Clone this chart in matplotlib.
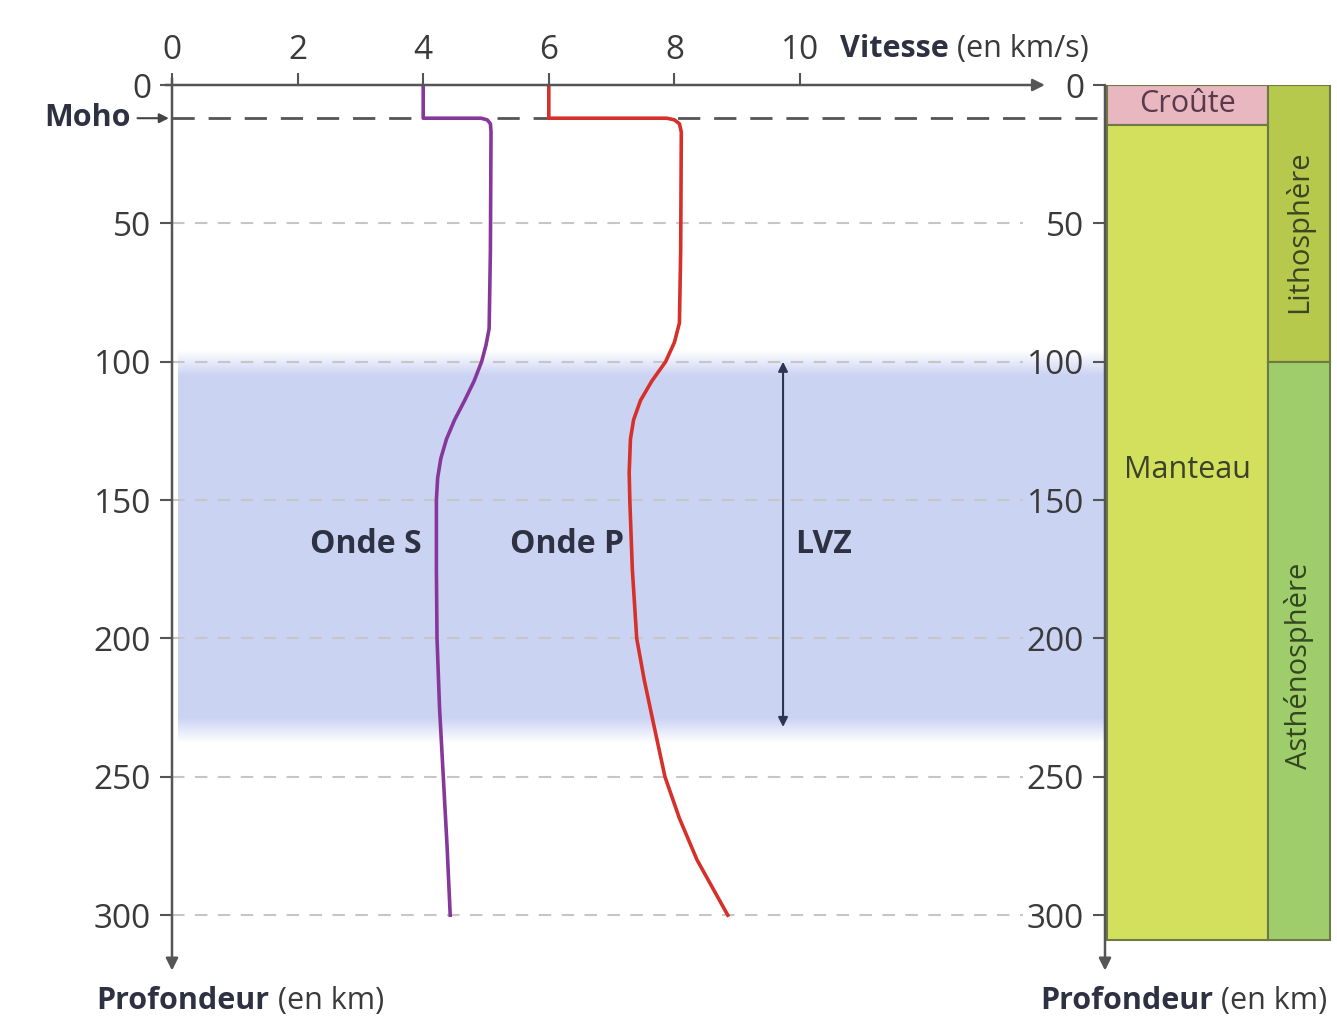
import numpy as np
import matplotlib
matplotlib.use("Agg")
import matplotlib.pyplot as plt
from matplotlib.patches import Rectangle

plt.rcParams['font.family'] = ['Open Sans', 'DejaVu Sans']

# --- data (velocity in km/s, depth in km) ---
depth_s = [0, 12, 12, 12.6, 14, 17, 60, 88, 94, 100, 107, 114, 121, 128, 135,
           142, 150, 175, 200, 225, 250, 275, 300]
vel_s = [4.0, 4.0, 4.92, 5.02, 5.07, 5.08, 5.07, 5.05, 5.0, 4.93, 4.81, 4.66,
         4.5, 4.37, 4.28, 4.23, 4.21, 4.21, 4.22, 4.26, 4.32, 4.38, 4.43]

depth_p = [0, 12, 12, 12.6, 14, 17, 60, 86, 93, 100, 107, 114, 121, 128, 140,
           150, 175, 200, 215, 230, 250, 265, 280, 300]
vel_p = [6.0, 6.0, 7.88, 8.0, 8.08, 8.11, 8.1, 8.08, 8.0, 7.86, 7.64, 7.46,
         7.35, 7.3, 7.28, 7.29, 7.33, 7.4, 7.52, 7.66, 7.85, 8.08, 8.36, 8.85]

moho_depth = 12
lvz_top, lvz_bottom = 100, 232
vel_ticks = [0, 2, 4, 6, 8, 10]
depth_ticks = [0, 50, 100, 150, 200, 250, 300]

# layers of the right-hand column (top, bottom in km)
crust = (0, 14.5)
mantle = (14.5, 309)
litho = (0, 100)
astheno = (100, 309)

W, H = 1337, 1019
DMAX = 318
TXT = '#3a3a3a'
DARK = '#2e3142'
TICK_FS = 24
LAB_FS = 22

fig = plt.figure(figsize=(W / 100, H / 100), dpi=100)
fig.patch.set_facecolor('white')

ax = fig.add_axes([172 / W, 1 - 965 / H, (1105 - 172) / W, (965 - 85) / H])
xmax = (1105 - 172) / 62.8
for s in ax.spines.values():
    s.set_visible(False)
ax.patch.set_alpha(0)

# LVZ band with soft edges
band_d = np.linspace(95, 240, 300)
alpha = np.clip(np.minimum((band_d - 96) / 9, (238 - band_d) / 9), 0, 1) * 0.9
rgba = np.zeros((len(band_d), 1, 4))
rgba[:, 0, 0], rgba[:, 0, 1], rgba[:, 0, 2] = 0.78, 0.81, 0.95
rgba[:, 0, 3] = alpha
ax.imshow(rgba, extent=[0.1, xmax, band_d[-1], band_d[0]],
          aspect='auto', zorder=0, interpolation='bilinear')
ax.set_xlim(0, xmax)
ax.set_ylim(DMAX, 0)

# grid lines
for d in depth_ticks[1:]:
    ax.plot([0, 13.55], [d, d], color='#c6c6c6', lw=1.5, dashes=(6, 5), zorder=1)
ax.plot([0, xmax], [moho_depth, moho_depth], color='#555555',
        lw=2, dashes=(8, 5), zorder=2, clip_on=False)

# velocity curves
ax.plot(vel_s, depth_s, color='#86379a', lw=2.6, zorder=3, solid_joinstyle='round')
ax.plot(vel_p, depth_p, color='#d6302b', lw=2.6, zorder=3, solid_joinstyle='round')

# axes lines with arrows
arrow_kw = dict(arrowstyle='-|>', color='#555555', lw=1.8, mutation_scale=18,
                shrinkA=0, shrinkB=0)
ax.annotate('', xy=(13.9, 0), xytext=(-0.11, 0), arrowprops=arrow_kw,
            annotation_clip=False)
ax.annotate('', xy=(0, DMAX + 2), xytext=(0, -2.5), arrowprops=arrow_kw,
            annotation_clip=False)

# ticks
ax.xaxis.tick_top()
ax.set_xticks(vel_ticks)
ax.set_xticklabels([str(v) for v in vel_ticks])
ax.set_yticks(depth_ticks)
ax.set_yticklabels([str(d) for d in depth_ticks])
ax.tick_params(axis='x', direction='out', length=9, width=1.5, color='#555555',
               pad=4, labelsize=TICK_FS, labelcolor=TXT)
ax.tick_params(axis='y', direction='out', length=9, width=1.5, color='#555555',
               pad=6, labelsize=TICK_FS, labelcolor=TXT)

# axis titles
t1 = ax.text(10.64, -13.0, 'Vitesse', fontsize=LAB_FS, fontweight='bold',
             color=DARK, va='center', ha='left', clip_on=False)
ax.annotate(' (en km/s)', xy=(1, 0.5), xycoords=t1, va='center', ha='left',
            fontsize=LAB_FS, color=TXT)
t2 = ax.text(-1.2, 331, 'Profondeur', fontsize=LAB_FS, fontweight='bold',
             color=DARK, va='center', ha='left', clip_on=False)
ax.annotate(' (en km)', xy=(1, 0.5), xycoords=t2, va='center', ha='left',
            fontsize=LAB_FS, color=TXT)

# Moho label
ax.annotate('Moho', xy=(-0.05, moho_depth), xytext=(-0.66, moho_depth),
            ha='right', va='center', fontsize=LAB_FS, fontweight='bold',
            color=DARK,
            arrowprops=dict(arrowstyle='-|>', color='#444444', lw=1.5,
                            mutation_scale=14, shrinkA=3, shrinkB=0),
            annotation_clip=False)

# curve labels
ax.text(3.98, 166, 'Onde S', fontsize=23, fontweight='bold', color=DARK,
        ha='right', va='center')
ax.text(7.2, 166, 'Onde P', fontsize=23, fontweight='bold', color=DARK,
        ha='right', va='center')

# LVZ arrow
ax.annotate('', xy=(9.73, lvz_bottom), xytext=(9.73, lvz_top),
            arrowprops=dict(arrowstyle='<|-|>', color='#2d3550', lw=1.5,
                            mutation_scale=14, shrinkA=0, shrinkB=0))
ax.text(9.92, 166, 'LVZ', fontsize=23, fontweight='bold', color=DARK,
        ha='left', va='center')

# --- right-hand column ---
ax2 = fig.add_axes([1105 / W, 1 - 965 / H, (W - 1105) / W, (965 - 85) / H])
ax2.set_xlim(0, W - 1105)
ax2.set_ylim(DMAX, 0)
for s in ax2.spines.values():
    s.set_visible(False)
ax2.patch.set_alpha(0)
ax2.set_xticks([])
ax2.set_yticks(depth_ticks)
ax2.set_yticklabels([str(d) for d in depth_ticks])
ax2.tick_params(axis='y', direction='out', length=9, width=1.5, color='#555555',
                pad=6, labelsize=TICK_FS, labelcolor=TXT)

edge = '#6d7a45'
x0, x1, x2 = 2, 163, 225
ax2.add_patch(Rectangle((x0, crust[0]), x1 - x0, crust[1] - crust[0],
                        facecolor='#e8b7c0', edgecolor=edge, lw=1.5))
ax2.add_patch(Rectangle((x0, mantle[0]), x1 - x0, mantle[1] - mantle[0],
                        facecolor='#d3e05e', edgecolor=edge, lw=1.5))
ax2.add_patch(Rectangle((x1, litho[0]), x2 - x1, litho[1] - litho[0],
                        facecolor='#b6c94c', edgecolor=edge, lw=1.5))
ax2.add_patch(Rectangle((x1, astheno[0]), x2 - x1, astheno[1] - astheno[0],
                        facecolor='#9fcd6c', edgecolor=edge, lw=1.5))

ax2.text((x0 + x1) / 2, 6.8, 'Croûte', fontsize=22, color='#5a3a4a',
         ha='center', va='center')
ax2.text((x0 + x1) / 2, 139, 'Manteau', fontsize=22, color='#3b4228',
         ha='center', va='center')
ax2.text((x1 + x2) / 2, 53, 'Lithosphère', fontsize=21, color='#3b4522',
         ha='center', va='center', rotation=90)
ax2.text((x1 + x2) / 2, 210, 'Asthénosphère', fontsize=21, color='#33461f',
         ha='center', va='center', rotation=90)

ax2.annotate('', xy=(0, DMAX + 2), xytext=(0, 0), arrowprops=arrow_kw,
             annotation_clip=False)
t3 = ax2.text(-65, 331, 'Profondeur', fontsize=LAB_FS, fontweight='bold',
              color=DARK, va='center', ha='left', clip_on=False)
ax2.annotate(' (en km)', xy=(1, 0.5), xycoords=t3, va='center', ha='left',
             fontsize=LAB_FS, color=TXT)

fig.savefig('out.png', dpi=100)
